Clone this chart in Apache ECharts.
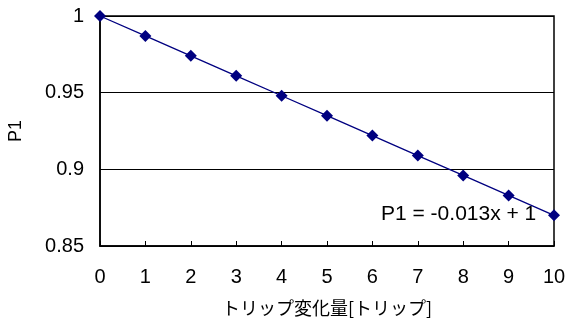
<!DOCTYPE html>
<html>
<head>
<meta charset="utf-8">
<script src="https://cdn.jsdelivr.net/npm/echarts@6/dist/echarts.min.js"></script>
<style>
html,body{margin:0;padding:0;background:#fff;}
#c{width:568px;height:324px;}
</style>
</head>
<body>
<div id="c"></div>
<script>
var xValues = [0, 1, 2, 3, 4, 5, 6, 7, 8, 9, 10];
var p1Values = [1, 0.987, 0.974, 0.961, 0.948, 0.935, 0.922, 0.909, 0.896, 0.883, 0.870];
var xAxisTitle = 'トリップ変化量[トリップ]';
var yAxisTitle = 'P1';
var equationText = 'P1 = -0.013x + 1';

var chart = echarts.init(document.getElementById('c'), null, {renderer: 'canvas'});
var font = '"Liberation Sans", Arial, sans-serif';
var cjkFont = '"Noto Sans CJK JP", "Liberation Sans", sans-serif';

chart.setOption({
  animation: false,
  backgroundColor: '#fff',
  grid: {left: 100, right: 14, top: 16, bottom: 78, containLabel: false, outerBoundsMode: 'none',
    show: true, borderColor: '#000', borderWidth: 1.5},
  xAxis: {
    type: 'value', min: 0, max: 10, interval: 1,
    name: xAxisTitle, nameLocation: 'middle', nameGap: 53,
    nameTextStyle: {fontFamily: cjkFont, fontSize: 18, color: '#000'},
    axisLine: {show: true, lineStyle: {color: '#000', width: 1.5}},
    axisTick: {show: true, inside: true, length: 5, lineStyle: {color: '#000'}},
    axisLabel: {fontFamily: font, fontSize: 20, color: '#000', margin: 21},
    splitLine: {show: false}
  },
  yAxis: {
    type: 'value', min: 0.85, max: 1, interval: 0.05,
    name: yAxisTitle, nameLocation: 'middle', nameGap: 75, nameRotate: 90,
    nameTextStyle: {fontFamily: font, fontSize: 18, color: '#000'},
    axisLine: {show: true, lineStyle: {color: '#000', width: 1.5}},
    axisTick: {show: false},
    axisLabel: {fontFamily: font, fontSize: 20, color: '#000', margin: 16,
      formatter: function(v){ return String(Math.round(v*100)/100); }},
    splitLine: {show: true, lineStyle: {color: '#000', width: 1}}
  },
  series: [{
    type: 'line',
    data: xValues.map(function(x, i){ return [x, p1Values[i]]; }),
    symbol: 'diamond', symbolSize: 12,
    lineStyle: {color: '#000080', width: 1.3},
    itemStyle: {color: '#000080'},
    z: 5
  }],
  graphic: [{
    type: 'text', left: 381, top: 204, z: 10,
    style: {text: equationText, font: '21px "Liberation Sans", Arial, sans-serif', fill: '#000'}
  }]
});
</script>
</body>
</html>
